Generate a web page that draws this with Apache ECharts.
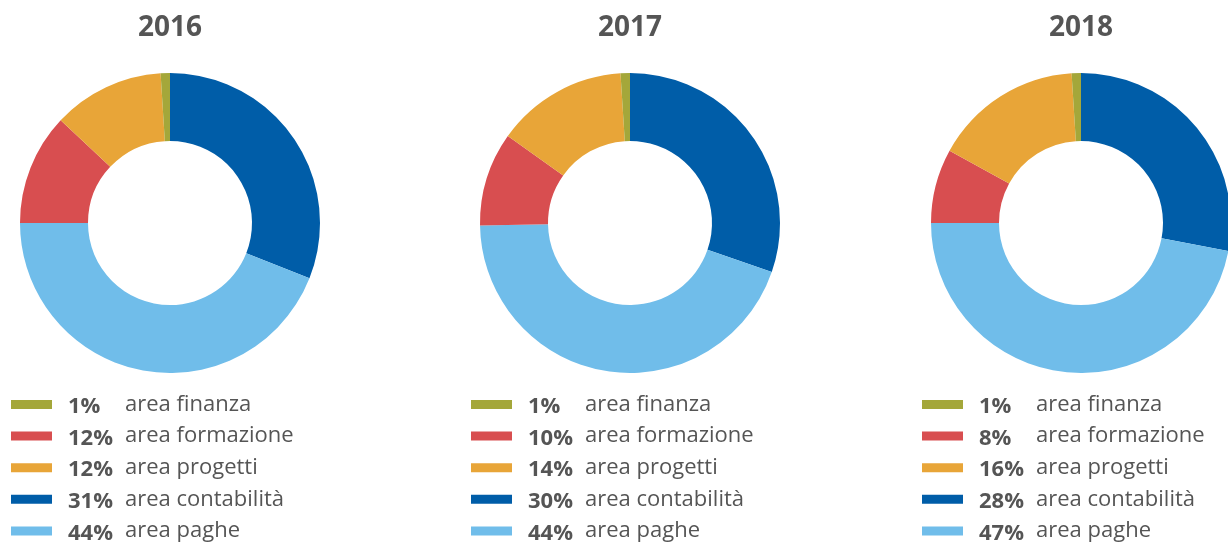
<!DOCTYPE html>
<html>
<head>
<meta charset="utf-8">
<script src="https://cdn.jsdelivr.net/npm/echarts@6/dist/echarts.min.js"></script>
<style>
  html, body { margin: 0; padding: 0; background: #fff; }
  #chart { width: 1228px; height: 543px; }
</style>
</head>
<body>
<div id="chart"></div>
<script>
// anni
const years = ['2016', '2017', '2018']
// aree (ordine legenda)
const areas = ['area finanza', 'area formazione', 'area progetti', 'area contabilità', 'area paghe']
// percentuali per anno, stesso ordine delle aree
const values2016 = [1, 12, 12, 31, 44]
const values2017 = [1, 10, 14, 30, 44]
const values2018 = [1, 8, 16, 28, 47]
const allValues = [values2016, values2017, values2018]

// ordine orario delle fette partendo da ore 12
const sliceOrder = ['area contabilità', 'area paghe', 'area formazione', 'area progetti', 'area finanza']

const colors = {
  'area finanza': '#A4A73A',
  'area formazione': '#D84E50',
  'area progetti': '#E8A538',
  'area contabilità': '#005DA8',
  'area paghe': '#70BDEA'
}

const centersX = [170, 630, 1081]
const centerY = 223
const textColor = '#555555'
const fontFamily = '"Open Sans", "Noto Sans", sans-serif'

const chart = echarts.init(document.getElementById('chart'))

const series = years.map((y, i) => ({
  name: y,
  type: 'pie',
  center: [centersX[i], centerY],
  radius: [82, 150],
  startAngle: 90,
  clockwise: true,
  avoidLabelOverlap: false,
  label: { show: false },
  labelLine: { show: false },
  emphasis: { disabled: true },
  itemStyle: { borderWidth: 0 },
  data: sliceOrder.map(name => ({
    name,
    value: allValues[i][areas.indexOf(name)],
    itemStyle: { color: colors[name] }
  }))
}))

const legends = years.map((y, i) => ({
  orient: 'vertical',
  left: centersX[i] - 159,
  top: 391,
  height: 200,
  padding: 0,
  itemWidth: 41,
  itemHeight: 9,
  itemGap: 4.6,
  icon: 'rect',
  selectedMode: false,
  data: areas,
  formatter: name => {
    const v = allValues[i][areas.indexOf(name)]
    return '{p|' + v + '%}{n|' + name + '}'
  },
  textStyle: {
    color: textColor,
    fontFamily,
    rich: {
      p: { fontSize: 22, fontWeight: 'bold', color: textColor, fontFamily, width: 57, padding: [5, 0, 0, 11], lineHeight: 22 },
      n: { fontSize: 22, color: textColor, fontFamily, lineHeight: 22 }
    }
  }
}))

const titles = years.map((y, i) => ({
  type: 'text',
  x: centersX[i],
  y: 28,
  style: {
    text: y,
    fill: textColor,
    font: 'bold 28px ' + fontFamily,
    textAlign: 'center',
    textVerticalAlign: 'middle'
  }
}))

chart.setOption({
  animation: false,
  legend: legends,
  graphic: titles,
  series
})
</script>
</body>
</html>
